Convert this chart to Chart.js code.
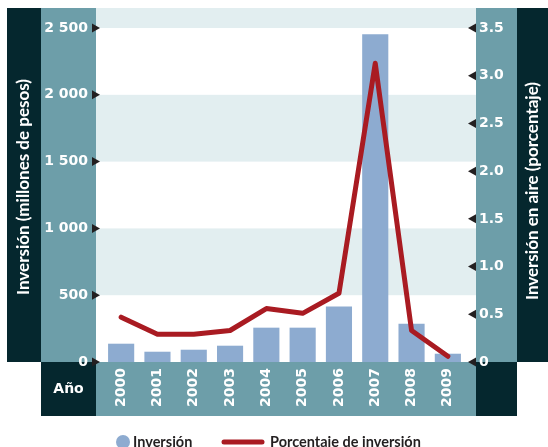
<!DOCTYPE html>
<html>
<head>
<meta charset="utf-8">
<script src="https://cdn.jsdelivr.net/npm/chart.js@4.4.1/dist/chart.umd.min.js"></script>
<style>
html, body { margin: 0; padding: 0; background: #fff; }
canvas { display: block; }
</style>
</head>
<body>
<canvas id="mychart" width="548" height="447"></canvas>
<script>
// data
const years = ['2000', '2001', '2002', '2003', '2004', '2005', '2006', '2007', '2008', '2009'];
const inversion = [137, 77, 92, 122, 257, 257, 415, 2453, 287, 62];
const porcentaje = [0.47, 0.29, 0.29, 0.33, 0.56, 0.51, 0.72, 3.13, 0.33, 0.06];
const leftTicks = [0, 500, 1000, 1500, 2000, 2500];
const rightTicks = [0, 0.5, 1.0, 1.5, 2.0, 2.5, 3.0, 3.5];
const bands = [[500, 1000], [1500, 2000], [2500, 2650]];

const DARK = '#05272e';
const TEAL = '#6d9ea9';
const BAND = '#e2eef0';
const BAR = '#8dabd0';
const RED = '#a91b22';
const NUM_FONT = 'bold 14px "DejaVu Sans"';

const panels = {
    id: 'panels',
    beforeDraw(chart) {
        const {ctx, chartArea: a, scales} = chart;
        const L = a.left - 7, R = a.right + 10;
        const top = a.top, bot = a.bottom, h = bot - top;
        ctx.save();
        ctx.fillStyle = DARK;
        ctx.fillRect(7, top, 34, h);
        ctx.fillRect(41, bot, L - 41, 54);
        ctx.fillRect(R, bot, 41, 54);
        ctx.fillRect(R + 41, top, chart.width - R - 41, h);
        ctx.fillStyle = TEAL;
        ctx.fillRect(41, top, L - 41, h);
        ctx.fillRect(L, bot, R - L, 54);
        ctx.fillRect(R, top, 41, h);
        ctx.fillStyle = BAND;
        bands.forEach(([lo, hi]) => {
            const y1 = scales.y.getPixelForValue(hi), y0 = scales.y.getPixelForValue(lo);
            ctx.fillRect(L, y1, R - L, y0 - y1);
        });
        ctx.restore();
    },
    afterDraw(chart) {
        const {ctx, chartArea: a, scales} = chart;
        const L = a.left - 7, R = a.right + 10;
        ctx.save();
        // tick arrows
        ctx.fillStyle = '#231f20';
        leftTicks.forEach(v => {
            const y = scales.y.getPixelForValue(v);
            ctx.beginPath();
            ctx.moveTo(L - 4, y - 4.5); ctx.lineTo(L + 4, y); ctx.lineTo(L - 4, y + 4.5);
            ctx.fill();
        });
        rightTicks.forEach(v => {
            const y = scales.y1.getPixelForValue(v);
            ctx.beginPath();
            ctx.moveTo(R, y - 4.5); ctx.lineTo(R - 8, y); ctx.lineTo(R, y + 4.5);
            ctx.fill();
        });
        // axis titles
        const midY = (a.top + a.bottom) / 2 + 2;
        ctx.fillStyle = '#fff';
        ctx.font = 'bold 17px Lato';
        ctx.textAlign = 'center';
        ctx.textBaseline = 'middle';
        ctx.translate(24, midY);
        ctx.rotate(-Math.PI / 2);
        ctx.fillText('Inversión (millones de pesos)', 0, 0);
        ctx.setTransform(1, 0, 0, 1, 0, 0);
        ctx.translate(R + 57, midY + 4);
        ctx.rotate(-Math.PI / 2);
        ctx.fillText('Inversión en aire (porcentaje)', 0, 0);
        ctx.setTransform(1, 0, 0, 1, 0, 0);
        // Año
        ctx.font = NUM_FONT;
        ctx.fillText('Año', (41 + L) / 2, a.bottom + 27);
        // legend
        const ly = 442;
        ctx.fillStyle = BAR;
        ctx.beginPath();
        ctx.arc(123, ly, 7, 0, Math.PI * 2);
        ctx.fill();
        ctx.strokeStyle = RED;
        ctx.lineWidth = 5;
        ctx.lineCap = 'round';
        ctx.beginPath();
        ctx.moveTo(224, ly); ctx.lineTo(262, ly);
        ctx.stroke();
        ctx.fillStyle = '#231f20';
        ctx.font = 'bold 14.5px Lato';
        ctx.textAlign = 'left';
        ctx.fillText('Inversión', 133, ly);
        ctx.fillText('Porcentaje de inversión', 270, ly);
        ctx.restore();
    }
};

const ctx = document.getElementById('mychart');
var chart = new Chart(ctx, {
    data: {
        labels: years,
        datasets: [
            {
                type: 'line',
                label: 'Porcentaje de inversión',
                data: porcentaje,
                yAxisID: 'y1',
                borderColor: RED,
                borderWidth: 5,
                borderCapStyle: 'round',
                borderJoinStyle: 'round',
                pointRadius: 0,
                tension: 0,
                order: 0,
            },
            {
                type: 'bar',
                label: 'Inversión',
                data: inversion,
                yAxisID: 'y',
                backgroundColor: BAR,
                barPercentage: 0.72,
                categoryPercentage: 1,
                order: 1,
            },
        ],
    },
    options: {
        responsive: false,
        animation: false,
        layout: {
            padding: {top: 8, bottom: 31, left: 0, right: 0},
        },
        scales: {
            x: {
                grid: {display: false, drawTicks: false},
                border: {display: false},
                ticks: {
                    color: '#fff',
                    font: {family: 'DejaVu Sans', weight: 'bold', size: 14},
                    minRotation: 90,
                    maxRotation: 90,
                    padding: 6,
                },
                afterFit(s) { s.height = 54; s.paddingLeft = 0; s.paddingRight = 0; },
            },
            y: {
                position: 'left',
                min: 0,
                max: 2650,
                grid: {display: false, drawTicks: false},
                border: {display: false},
                afterBuildTicks(s) { s.ticks = leftTicks.map(v => ({value: v})); },
                ticks: {
                    color: '#fff',
                    font: {family: 'DejaVu Sans', weight: 'bold', size: 14},
                    padding: 15,
                    callback: v => String(v).replace(/\B(?=(\d{3})+$)/g, ' '),
                },
                afterFit(s) { s.width = 103; s.paddingTop = 0; s.paddingBottom = 0; },
            },
            y1: {
                position: 'right',
                min: 0,
                max: 3.71,
                grid: {display: false, drawTicks: false},
                border: {display: false},
                afterBuildTicks(s) { s.ticks = rightTicks.map(v => ({value: v})); },
                ticks: {
                    color: '#fff',
                    font: {family: 'DejaVu Sans', weight: 'bold', size: 14},
                    padding: 13,
                    callback: v => v === 0 ? '0' : v.toFixed(1),
                },
                afterFit(s) { s.width = 82; s.paddingTop = 0; s.paddingBottom = 0; },
            },
        },
        plugins: {
            legend: {display: false},
            tooltip: {enabled: false},
        },
    },
    plugins: [panels],
});
</script>
</body>
</html>
